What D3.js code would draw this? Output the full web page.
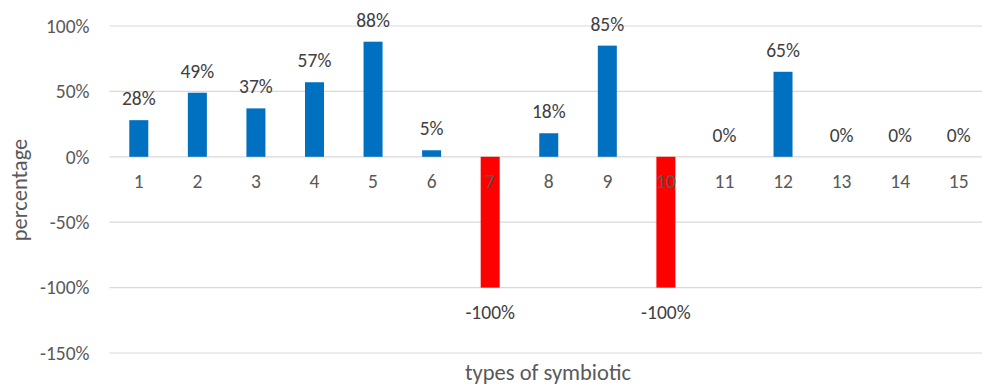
<!DOCTYPE html>
<html><head><meta charset="utf-8">
<script src="https://cdn.jsdelivr.net/npm/d3@7"></script>
<style>body{margin:0;background:#fff;} text{font-family:Calibri,Carlito,Lato,sans-serif;}</style>
</head><body><svg id="c" width="982" height="385"></svg>
<script>
const categories = ["1","2","3","4","5","6","7","8","9","10","11","12","13","14","15"];
const values = [0.28,0.49,0.37,0.57,0.88,0.05,-1.00,0.18,0.85,-1.00,0,0.65,0,0,0];
const yTicks = [-1.5,-1.0,-0.5,0,0.5,1.0];

const svg = d3.select("#c");
const mLeft = 109.5, mRight = 988, mTop = 26, mBottom = 353;
const x = d3.scaleBand().domain(categories).range([mLeft, mRight]).paddingInner(0.68).paddingOuter(0.34);
const y = d3.scaleLinear().domain([-1.5, 1.0]).range([mBottom, mTop]);
const fmt = d => Math.round(d*100) + "%";
const FF = "Calibri,Carlito,Lato,sans-serif";

// gridlines
svg.append("g").selectAll("line").data(yTicks).join("line")
  .attr("x1", mLeft).attr("x2", 982)
  .attr("y1", d => y(d)).attr("y2", d => y(d))
  .attr("stroke", "#d9d9d9").attr("stroke-width", 1.2);

// y axis labels
const yAxis = d3.axisLeft(y).tickValues(yTicks).tickFormat(fmt).tickSize(0).tickPadding(20);
const ya = svg.append("g").attr("transform", `translate(${mLeft},0)`).call(yAxis);
ya.select(".domain").remove();
ya.selectAll("text").attr("fill", "#595959").style("font-size", "19.5px").attr("font-family", FF);

// bars
const bw = 19;
svg.append("g").selectAll("rect").data(values).join("rect")
  .attr("x", (d,i) => x(categories[i]) + x.bandwidth()/2 - bw/2)
  .attr("width", bw)
  .attr("y", d => y(Math.max(0, d)))
  .attr("height", d => Math.abs(y(d) - y(0)))
  .attr("fill", d => d < 0 ? "#ff0000" : "#0070c0");

// x axis labels
const xAxis = d3.axisBottom(x).tickSize(0).tickPadding(17);
const xa = svg.append("g").attr("transform", `translate(0,${y(0)})`).call(xAxis);
xa.select(".domain").remove();
xa.selectAll("text").attr("fill", "#595959").style("font-size", "19.5px").attr("font-family", FF);

// data labels
svg.append("g").selectAll("text").data(values).join("text")
  .attr("x", (d,i) => x(categories[i]) + x.bandwidth()/2)
  .attr("y", d => d < 0 ? y(d) + 31 : y(d) - 15)
  .attr("text-anchor", "middle")
  .attr("fill", "#404040").style("font-size", "19.5px")
  .text(fmt);

// axis titles
svg.append("text").attr("x", 548).attr("y", 380).attr("text-anchor", "middle")
  .attr("fill", "#595959").style("font-size", "22.5px").text("types of symbiotic");
svg.append("text").attr("transform", "translate(27,190) rotate(-90)").attr("text-anchor", "middle")
  .attr("fill", "#595959").style("font-size", "22.5px").text("percentage");
</script></body></html>
